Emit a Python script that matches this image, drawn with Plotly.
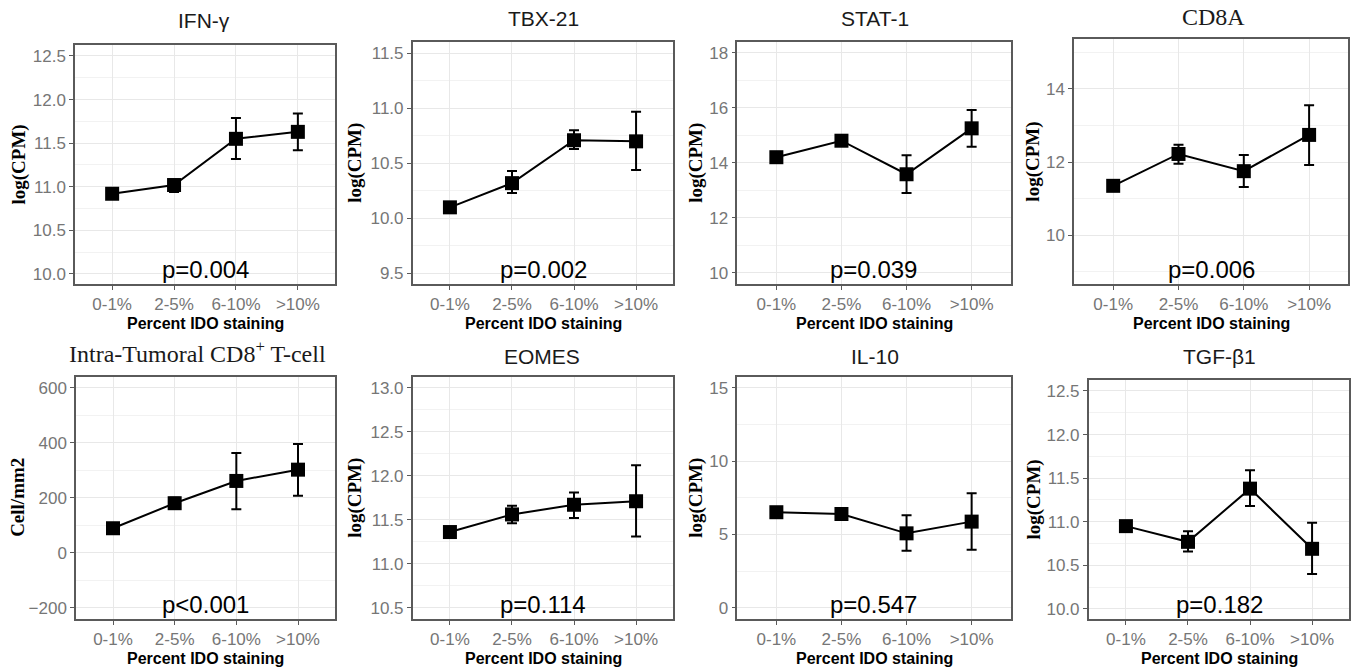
import plotly.graph_objects as go

categories = ["0-1%", "2-5%", "6-10%", ">10%"]

titles = ["IFN-γ", "TBX-21", "STAT-1", "CD8A",
          "Intra-Tumoral CD8<sup>+</sup> T-cell", "EOMES", "IL-10", "TGF-β1"]
title_serif = [False, False, False, True, True, False, False, False]
y_titles = ["log(CPM)", "log(CPM)", "log(CPM)", "log(CPM)",
            "Cell/mm2", "log(CPM)", "log(CPM)", "log(CPM)"]
p_labels = ["p=0.004", "p=0.002", "p=0.039", "p=0.006",
            "p<0.001", "p=0.114", "p=0.547", "p=0.182"]

ifng = [10.92, 11.02, 11.55, 11.63]
ifng_lo = [10.90, 10.94, 11.32, 11.42]
ifng_hi = [10.94, 11.08, 11.79, 11.84]

tbx21 = [10.10, 10.32, 10.71, 10.70]
tbx21_lo = [10.08, 10.23, 10.63, 10.44]
tbx21_hi = [10.12, 10.43, 10.80, 10.97]

stat1 = [14.20, 14.80, 13.58, 15.25]
stat1_lo = [14.10, 14.65, 12.90, 14.58]
stat1_hi = [14.30, 14.95, 14.27, 15.92]

cd8a = [11.35, 12.22, 11.75, 12.74]
cd8a_lo = [11.28, 11.95, 11.32, 11.92]
cd8a_hi = [11.42, 12.47, 12.19, 13.55]

cd8t = [89, 180, 261, 302]
cd8t_lo = [80, 160, 158, 207]
cd8t_hi = [98, 200, 363, 395]

eomes = [11.36, 11.56, 11.67, 11.71]
eomes_lo = [11.34, 11.46, 11.52, 11.31]
eomes_hi = [11.38, 11.66, 11.81, 12.12]

il10 = [6.51, 6.39, 5.07, 5.87]
il10_lo = [6.40, 6.15, 3.88, 3.95]
il10_hi = [6.60, 6.60, 6.31, 7.80]

tgfb1 = [10.95, 10.77, 11.38, 10.69]
tgfb1_lo = [10.93, 10.66, 11.18, 10.40]
tgfb1_hi = [10.97, 10.89, 11.59, 10.99]

series = [(ifng, ifng_lo, ifng_hi), (tbx21, tbx21_lo, tbx21_hi),
          (stat1, stat1_lo, stat1_hi), (cd8a, cd8a_lo, cd8a_hi),
          (cd8t, cd8t_lo, cd8t_hi), (eomes, eomes_lo, eomes_hi),
          (il10, il10_lo, il10_hi), (tgfb1, tgfb1_lo, tgfb1_hi)]

# axis settings
y_ranges = [[9.885, 12.626], [9.403, 11.606], [9.59, 18.4], [8.67, 15.35],
            [-241, 640], [10.372, 13.125], [-0.77, 15.75], [9.885, 12.626]]
y_dticks = [0.5, 0.5, 2, 2, 200, 0.5, 5, 0.5]
y_fmt = [".1f", ".1f", "d", "d", "d", ".1f", "d", ".1f"]

W, H = 1356, 671
# panel boxes in pixels: left, right, top, bottom
boxes = [(75, 335, 45, 284), (412.7, 673.3, 41.7, 284), (737.3, 1010.7, 41.7, 284), (1074, 1348.3, 39.3, 284),
         (76, 335, 376.7, 619), (412.7, 673.3, 376.7, 619), (737.3, 1010.7, 376.7, 619), (1088.7, 1349.3, 380, 619)]
title_pos = [(204, 21), (543, 18), (875, 18), (1213, 17),
             (197, 352), (542, 356), (875, 356), (1219, 356)]
ytitle_x = [18, 355, 696, 1033, 18, 355, 696, 1033]

fig = go.Figure()
annotations = []
layout = {}

SANS = "Liberation Sans, Arial, sans-serif"
SERIF = "Liberation Serif, Times New Roman, serif"
tick_col = "#767676"
border_col = "#5a5a5a"

for i, (vals, lo, hi) in enumerate(series):
    n = i + 1
    xa = "x" if n == 1 else f"x{n}"
    ya = "y" if n == 1 else f"y{n}"
    plus = [h - v for h, v in zip(hi, vals)]
    minus = [v - l for v, l in zip(vals, lo)]
    fig.add_trace(go.Scatter(
        x=categories, y=vals, xaxis=xa, yaxis=ya, mode="lines+markers",
        line=dict(color="black", width=2),
        marker=dict(symbol="square", size=14, color="black"),
        error_y=dict(type="data", symmetric=False, array=plus, arrayminus=minus,
                     color="black", thickness=2, width=5),
        showlegend=False, cliponaxis=False))
    L, R, T, B = boxes[i]
    xkey = "xaxis" if n == 1 else f"xaxis{n}"
    ykey = "yaxis" if n == 1 else f"yaxis{n}"
    layout[xkey] = dict(
        domain=[L / W, R / W], anchor=ya, type="category",
        categoryorder="array", categoryarray=categories,
        range=[-0.6, 3.6], showgrid=True, gridcolor="#e8e8e8", gridwidth=1,
        showline=True, mirror=True, linecolor=border_col, linewidth=1.5,
        ticks="outside", ticklen=4, tickcolor=border_col, tickwidth=1.2,
        tickfont=dict(family=SANS, size=17, color=tick_col), zeroline=False,
        fixedrange=True)
    d = y_dticks[i]
    layout[ykey] = dict(
        domain=[1 - B / H, 1 - T / H], anchor=xa, range=y_ranges[i],
        tick0=0, dtick=d, tickformat=y_fmt[i],
        showgrid=True, gridcolor="#e8e8e8", gridwidth=1,
        minor=dict(dtick=d / 2, tick0=0, showgrid=True, gridcolor="#f2f2f2", gridwidth=1),
        showline=True, mirror=True, linecolor=border_col, linewidth=1.5,
        ticks="outside", ticklen=4, tickcolor=border_col, tickwidth=1.2,
        tickfont=dict(family=SANS, size=17, color=tick_col), zeroline=False,
        fixedrange=True)
    # panel title
    tx, ty = title_pos[i]
    annotations.append(dict(
        text=titles[i], x=tx / W, y=1 - ty / H, xref="paper", yref="paper",
        xanchor="center", yanchor="middle", showarrow=False,
        font=dict(family=SERIF if title_serif[i] else SANS,
                  size=24 if title_serif[i] else 21, color="#1a1a1a")))
    # y title
    annotations.append(dict(
        text=f"<b>{y_titles[i]}</b>", x=ytitle_x[i] / W, y=1 - ((T + B) / 2) / H,
        xref="paper", yref="paper", xanchor="center", yanchor="middle",
        textangle=-90, showarrow=False,
        font=dict(family=SERIF, size=19, color="black")))
    # x title
    annotations.append(dict(
        text="<b>Percent IDO staining</b>", x=((L + R) / 2) / W, y=1 - (B + 39) / H,
        xref="paper", yref="paper", xanchor="center", yanchor="middle",
        showarrow=False, font=dict(family=SANS, size=16, color="black")))
    # p value
    annotations.append(dict(
        text=p_labels[i], x=1.5, y=0.06, xref=xa, yref=f"{ya} domain",
        xanchor="center", yanchor="middle", showarrow=False,
        font=dict(family=SANS, size=24, color="black")))

fig.update_layout(
    width=W, height=H, margin=dict(l=0, r=0, t=0, b=0),
    paper_bgcolor="white", plot_bgcolor="white",
    annotations=annotations, **layout)

fig.write_html(
    "out.html",
    config={"displayModeBar": False},
    post_script="document.body.style.margin='0';document.body.style.padding='0';"
                "document.body.style.overflow='hidden';")
